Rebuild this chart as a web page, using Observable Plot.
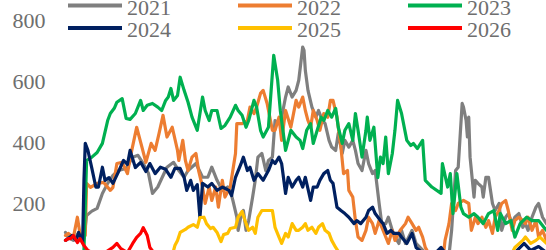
<!DOCTYPE html>
<html><head><meta charset="utf-8">
<script src="https://cdn.jsdelivr.net/npm/d3@7"></script>
<script src="https://cdn.jsdelivr.net/npm/@observablehq/plot@0.6"></script>
<style>
html,body{margin:0;padding:0;background:#fff;overflow:hidden;}
#wrap{position:relative;width:546px;height:250px;overflow:hidden;}
#wrap svg{display:block;}
#legend{position:absolute;left:0;top:0;}
</style></head><body><div id="wrap"></div>
<script>
const years = ["2021","2022","2023","2024","2025","2026"];
const colors = ["#7F7F7F","#ED7D31","#00B050","#002060","#FFC000","#FF0000"];
const yTicks = [200,400,600,800];

const days2021 = [0,2,6,10,14,16,20,24,28,32,36,40,46,51,55,59,63,66,70,73,77,82,86,90,93,99,104,108,111,115,119,123,125,127,130,131,133,135,137,139,142,144,146,149,152,154,157,159,162,164,167,169,172,175,177,180,181,182,184,187,190,192,195,197,200,202,205,207,210,212,215,218,220,222,225,228,230,233,235,238,240,243,245,248,250,253,255,258,263,266,269,275,285,291,293,296,298,301,302,304,305,306,307,310,311,313,316,317,319,321,324,326,329,331,334,336,339,341,344,347,349,351,354,357,359,362,365];
const values2021 = [105,89,79,105,85,161,175,184,233,266,292,308,315,352,358,331,298,233,254,282,319,335,308,286,308,331,286,286,319,276,243,254,243,210,155,112,155,177,112,144,221,276,352,364,308,341,352,472,462,483,549,582,549,571,604,713,702,636,571,516,483,505,472,462,407,385,374,430,364,407,385,407,374,331,308,374,331,298,308,200,134,134,155,112,90,69,112,69,112,69,56,30,20,30,112,308,319,528,516,472,418,483,352,221,276,266,254,221,286,286,200,177,200,112,155,167,134,155,167,122,134,112,155,188,200,155,134];

const days2022 = [0,2,6,9,11,14,15,16,19,24,29,34,36,39,43,47,49,54,58,61,65,68,71,74,77,81,85,86,89,91,93,96,99,101,104,106,109,111,114,116,119,121,125,129,130,134,138,140,143,145,148,150,153,157,159,162,164,167,171,175,177,180,182,184,186,188,191,193,196,199,201,203,206,209,211,214,215,218,220,222,225,228,230,233,235,238,241,245,248,250,254,258,260,263,266,268,271,273,277,282,287,288,291,293,296,298,302,306,308,311,313,316,319,321,324,326,329,331,334,336,339,341,344,347,349,351,354,357,359,362,365];
const values2022 = [95,102,89,155,102,92,95,266,253,266,269,243,253,331,335,298,348,450,385,335,397,374,430,489,418,450,374,341,407,341,308,352,364,308,254,200,254,210,254,188,276,221,254,364,462,462,472,516,495,516,561,571,528,440,440,483,407,505,450,538,516,549,505,472,450,505,472,440,495,483,538,538,483,385,298,308,243,221,144,90,79,112,155,134,102,144,112,69,112,79,112,134,155,134,112,122,90,56,26,20,39,79,134,200,177,200,210,200,112,155,134,155,122,144,102,155,177,200,210,177,112,144,155,144,134,155,112,144,90,112,79];

const days2023 = [0,8,14,16,20,24,28,32,34,37,39,43,46,49,53,57,59,62,66,70,73,76,78,80,82,85,87,90,93,96,100,104,106,109,111,115,118,121,125,129,131,134,137,139,143,145,148,150,154,158,161,163,167,171,175,178,180,183,186,188,191,194,196,199,202,205,207,210,212,215,218,220,222,225,228,229,231,234,237,239,241,243,245,248,250,252,255,259,262,264,267,271,273,278,285,286,290,292,294,297,300,302,306,310,313,317,321,325,328,330,334,338,341,345,350,354,359,363,365];
const values2023 = [20,30,46,341,352,367,397,472,495,512,532,544,479,476,495,538,505,522,528,516,505,538,549,577,538,554,614,571,532,483,440,549,505,472,505,505,446,456,483,522,505,489,450,472,538,516,440,418,450,686,604,505,374,440,418,407,380,440,462,397,440,483,472,505,483,512,450,397,440,462,407,495,440,352,440,483,407,450,285,352,331,418,298,364,440,538,495,407,390,397,380,407,276,254,233,331,254,298,167,298,188,167,155,167,155,134,167,177,112,167,134,144,90,134,155,144,144,122,112];

const days2024 = [0,2,5,8,10,13,14,15,17,20,23,25,28,30,33,36,40,44,47,49,53,57,61,64,68,72,76,80,83,87,90,92,95,97,100,102,104,108,111,115,119,124,126,129,133,135,138,140,143,146,150,154,157,159,162,164,167,169,172,175,177,180,182,186,188,191,193,196,199,201,203,206,209,212,215,219,221,224,228,230,233,235,239,241,244,247,249,253,255,259,263,266,273,281,285,290,300,315,330,341,348,353,359,365];
const values2024 = [79,85,95,79,105,72,276,397,374,315,254,254,319,276,285,266,302,341,328,374,318,335,305,331,298,319,312,286,315,315,286,243,276,243,262,154,266,254,266,243,254,243,226,286,328,352,308,319,276,298,276,308,341,331,352,331,233,286,254,276,286,254,286,210,254,254,276,298,308,276,266,188,177,167,155,134,144,134,155,177,188,167,144,134,102,112,102,102,90,69,102,56,30,39,56,26,20,23,26,39,69,46,59,39];

const days2025 = [0,15,42,65,81,83,85,87,91,93,97,100,102,105,107,110,112,115,118,120,123,125,129,131,134,137,139,142,144,146,149,153,157,159,162,164,167,169,172,175,177,180,182,184,187,190,192,195,197,200,202,205,209,224,254,285,315,338,341,347,349,353,357,360,365];
const values2025 = [30,20,23,26,30,62,79,105,115,122,131,122,154,155,134,118,122,105,75,98,102,118,122,155,174,134,112,122,102,155,177,177,177,122,90,69,102,90,134,112,112,122,134,112,122,102,122,134,112,102,79,56,30,20,23,20,26,30,56,79,90,69,79,90,69];

const days2026 = [0,2,4,6,9,11,14,17,23,30,36,39,42,47,51,54,57,59,62,64,67];
const values2026 = [79,85,85,95,72,85,62,46,33,39,56,69,52,39,69,89,102,121,95,56,39];

const series = [[days2021,values2021],[days2022,values2022],[days2023,values2023],[days2024,values2024],[days2025,values2025],[days2026,values2026]];
const rows = series.flatMap(([d, v], i) => d.map((day, j) => ({year: years[i], day, value: v[j]})));

const font = "'Liberation Serif','Times New Roman',serif";
const textColor = "#6e6e6e";

const chart = Plot.plot({
  width: 546, height: 284,
  marginTop: 20, marginBottom: 20, marginLeft: 65, marginRight: 0,
  x: {domain: [0, 365], axis: null},
  y: {domain: [0, 800], ticks: yTicks, tickSize: 0, tickPadding: 20, label: null},
  color: {domain: years, range: colors},
  style: {fontFamily: font, fontSize: "22px", color: textColor, background: "#fff", overflow: "visible"},
  marks: [
    Plot.line(rows, {x: "day", y: "value", z: "year", stroke: "year", strokeWidth: 3.2, strokeLinejoin: "round", strokeLinecap: "round"})
  ]
});
const wrap = document.getElementById("wrap");
wrap.appendChild(chart);

// legend overlay
const lg = d3.select(wrap).append("svg").attr("id","legend").attr("width",546).attr("height",45);
const colX = [68, 238, 408];
const lineY = [5.5, 28];
const baseY = [15, 37];
years.forEach((yr, i) => {
  const c = i % 3, r = Math.floor(i / 3);
  lg.append("line").attr("x1", colX[c]).attr("x2", colX[c] + 54)
    .attr("y1", lineY[r]).attr("y2", lineY[r])
    .attr("stroke", colors[i]).attr("stroke-width", 4);
  lg.append("text").attr("x", colX[c] + 59).attr("y", baseY[r])
    .attr("font-family", font).attr("font-size", 22).attr("fill", textColor).text(yr);
});
</script></body></html>
